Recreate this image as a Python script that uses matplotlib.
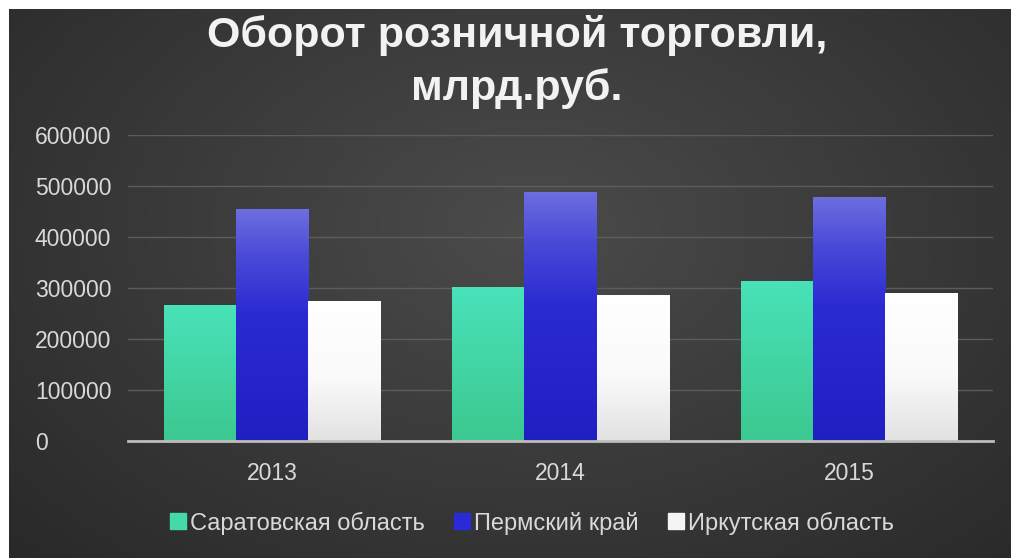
import numpy as np
import matplotlib
matplotlib.use("Agg")
import matplotlib.pyplot as plt
from matplotlib.colors import LinearSegmentedColormap
from matplotlib.patches import Rectangle
from matplotlib.lines import Line2D

plt.rcParams['font.family'] = ['Liberation Sans', 'DejaVu Sans']

title = "Оборот розничной торговли,\nмлрд.руб."
years = ["2013", "2014", "2015"]
series_names = ["Саратовская область", "Пермский край", "Иркутская область"]
saratov = [267000, 302000, 314000]
perm = [454000, 489000, 479000]
irkutsk = [275000, 286000, 291000]
yticks = [0, 100000, 200000, 300000, 400000, 500000, 600000]

values = [saratov, perm, irkutsk]
# gradient stops (position from bottom, colour)
grad_stops = [[(0.0, "#3cc890"), (1.0, "#49e2b9")],
              [(0.0, "#1f1fc2"), (0.55, "#2b2bd2"), (0.8, "#4a4ad8"), (1.0, "#6e6ee0")],
              [(0.0, "#e2e2e2"), (0.45, "#fafafa"), (1.0, "#ffffff")]]
legend_colors = ["#44d9a8", "#2a2ad6", "#f4f4f4"]

W, H, DPI = 1012, 558, 100
fig = plt.figure(figsize=(W / DPI, H / DPI), dpi=DPI)
fig.patch.set_facecolor("white")

# background with radial gradient
bg = fig.add_axes([9 / W, 0, 1 - 9 / W, 1 - 9 / H])
bg.set_axis_off()
yy, xx = np.mgrid[0:1:300j, 0:1:500j]
r = np.sqrt(((xx - 0.52) / 0.75) ** 2 + ((yy - 0.4) / 0.9) ** 2)
r = np.clip(r, 0, 1)
bgcmap = LinearSegmentedColormap.from_list("bg", ["#4b4b4b", "#3a3a3a", "#292929"])
bg.imshow(r, cmap=bgcmap, aspect="auto", extent=[0, 1, 0, 1], origin="upper",
          interpolation="bilinear")
bg.set_xlim(0, 1)
bg.set_ylim(0, 1)

ax = fig.add_axes([128 / W, (H - 441) / H, (993 - 128) / W, (441 - 135) / H])
ax.patch.set_alpha(0)

ax.set_yticks(yticks)
ax.set_yticklabels([str(v) for v in yticks])
ax.grid(axis="y", color="#5c5c5c", linewidth=1.0)
ax.set_axisbelow(True)
for s in ["top", "right", "left"]:
    ax.spines[s].set_visible(False)
ax.spines["bottom"].set_color("#bdbdbd")
ax.spines["bottom"].set_linewidth(2)
ax.spines["bottom"].set_zorder(5)
ax.tick_params(axis="y", length=0, labelsize=16.5, labelcolor="#d9d9d9", pad=67)
for lbl in ax.get_yticklabels():
    lbl.set_horizontalalignment("left")
ax.set_xticks(range(len(years)))
ax.set_xticklabels(years)
ax.tick_params(axis="x", length=0, labelsize=16.5, labelcolor="#d9d9d9", pad=15)

bw = 0.25
x = np.arange(len(years))
for i, (vals, stops) in enumerate(zip(values, grad_stops)):
    cmap = LinearSegmentedColormap.from_list(f"g{i}", stops)
    bars = ax.bar(x + (i - 1) * bw, vals, width=bw, color="none", edgecolor="none", zorder=3)
    for b in bars:
        x0, y0 = b.get_x(), b.get_y()
        w, h = b.get_width(), b.get_height()
        grad = np.linspace(0, 1, 256).reshape(-1, 1)
        im = ax.imshow(grad, cmap=cmap, aspect="auto", origin="lower",
                       extent=[x0, x0 + w, y0, y0 + h], zorder=3)
        clip = Rectangle((x0, y0), w, h, transform=ax.transData, facecolor="none", edgecolor="none")
        ax.add_patch(clip)
        im.set_clip_path(clip)
ax.set_xlim(-0.5, 2.5)
ax.set_ylim(0, 600000)

fig.text(517 / W, 1 - 62 / H, title, ha="center", va="center", fontsize=31,
         fontweight="bold", color="#f2f2f2", linespacing=1.4)

handles = [Line2D([], [], marker="s", linestyle="none", markersize=12,
                  markerfacecolor=c, markeredgecolor=c) for c in legend_colors]
leg = fig.legend(handles, series_names, loc="center", bbox_to_anchor=(530 / W, 1 - 523 / H),
                 ncol=3, frameon=False, fontsize=17, handletextpad=0.0,
                 columnspacing=1.1, handlelength=1.0)
for t in leg.get_texts():
    t.set_color("#d9d9d9")

fig.savefig("out.png", dpi=DPI, facecolor=fig.get_facecolor())
